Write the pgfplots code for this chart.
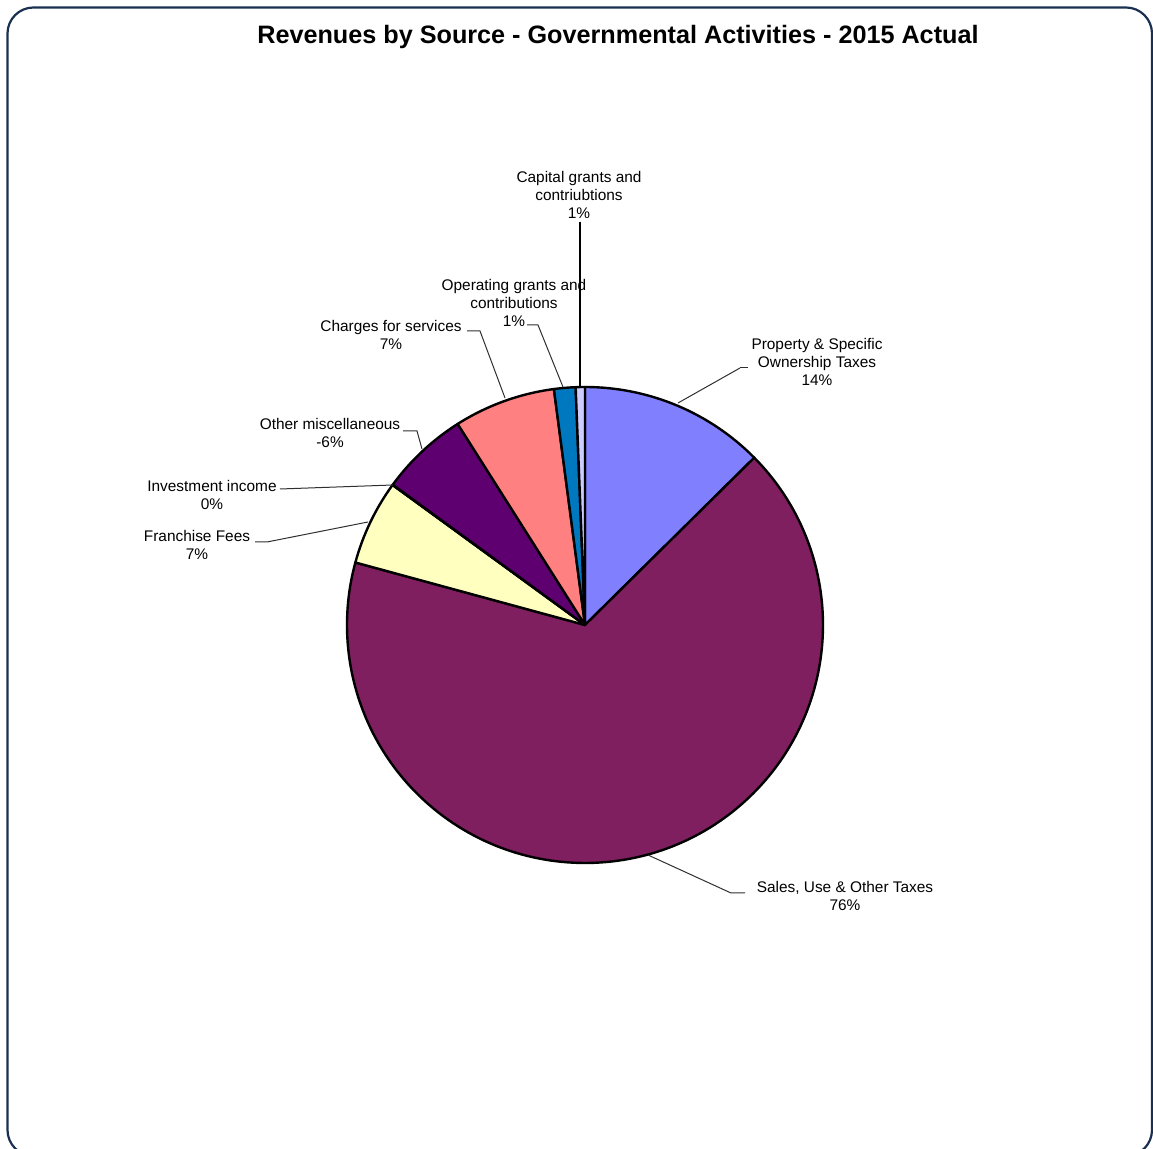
\documentclass[border=0pt]{standalone}
\usepackage{fontspec}
\setmainfont{Liberation Sans}
\usepackage{pgfplots}
\usepackage{pgfplotstable}
\pgfplotsset{compat=1.18}

\definecolor{slice0}{HTML}{8080FF}
\definecolor{slice1}{HTML}{7F1F5F}
\definecolor{slice2}{HTML}{FFFFC0}
\definecolor{slice3}{HTML}{CCFFFF}
\definecolor{slice4}{HTML}{5F0070}
\definecolor{slice5}{HTML}{FF8080}
\definecolor{slice6}{HTML}{0078C0}
\definecolor{slice7}{HTML}{CCCCFF}
\definecolor{framecol}{HTML}{1A3050}
\definecolor{leadcol}{HTML}{303030}

% Revenues by source (signed shares, %); pie uses absolute values
\pgfplotstableread{
source value
Property 14.31
Sales 75.71
Franchise 6.57
Investment 0.03
Other -6.79
Charges 7.84
Operating 1.66
Capital 0.71
}\revtable

\pgfmathsetmacro{\pietotal}{0}
\pgfplotsforeachungrouped \i in {0,...,7}{%
  \pgfplotstablegetelem{\i}{value}\of\revtable
  \pgfmathsetmacro{\pietotal}{\pietotal+abs(\pgfplotsretval)}%
}
\pgfmathsetmacro{\piecum}{0}
\pgfplotsforeachungrouped \i in {0,...,7}{%
  \pgfplotstablegetelem{\i}{value}\of\revtable
  \pgfmathsetmacro{\pieS}{90-360*(\piecum/\pietotal)}%
  \pgfmathsetmacro{\piecum}{\piecum+abs(\pgfplotsretval)}%
  \pgfmathsetmacro{\pieE}{90-360*(\piecum/\pietotal)}%
  \expandafter\xdef\csname pieA\i\endcsname{\pieS}%
  \expandafter\xdef\csname pieB\i\endcsname{\pieE}%
}

\begin{document}
\begin{tikzpicture}
\begin{axis}[name=ax,
  x=0.5pt, y=0.5pt,
  xmin=0, xmax=1153, ymin=0, ymax=1149,
  y dir=reverse, hide axis, clip=false,
  anchor=south west, at={(0,0)}]

% frame
\draw[framecol, line width=1.1pt, rounded corners=13pt]
  (axis cs:7.5,7.5) rectangle (axis cs:1152,1156);

% title
\node[font=\fontsize{12.6}{15}\selectfont\bfseries] at (axis cs:618,37)
  {Revenues by Source - Governmental Activities - 2015 Actual};

% pie slices
\pgfplotsinvokeforeach{0,...,7}{%
  \draw[fill=slice#1, line width=1.2pt, line join=round]
    (axis cs:585,625) -- ++(\csname pieA#1\endcsname:119pt)
    arc[start angle=\csname pieA#1\endcsname, end angle=\csname pieB#1\endcsname, radius=119pt] -- cycle;
}

% leader lines
\draw[leadcol, line width=0.5pt] (axis cs:740,368) -- (axis cs:748,368);
\draw[leadcol, line width=0.5pt] (axis cs:740,368) -- (axis cs:678,403);
\draw[leadcol, line width=0.5pt] (axis cs:648,855) -- (axis cs:731,893) -- (axis cs:745,893);
\draw[leadcol, line width=0.5pt] (axis cs:255,542) -- (axis cs:267,542) -- (axis cs:368,522);
\draw[leadcol, line width=0.5pt] (axis cs:280,489) -- (axis cs:393,485);
\draw[leadcol, line width=0.5pt] (axis cs:403,431) -- (axis cs:417,431) -- (axis cs:422,449);
\draw[leadcol, line width=0.5pt] (axis cs:467,331) -- (axis cs:480,331) -- (axis cs:505,398);
\draw[leadcol, line width=0.5pt] (axis cs:527,325) -- (axis cs:538,325) -- (axis cs:563,387);
\draw[black, line width=0.6pt] (axis cs:580,222) -- (axis cs:580,388);

% labels
\tikzset{lab/.style={align=center, font=\fontsize{7.7}{9}\selectfont, inner sep=0pt}}
\node[lab] at (axis cs:579,195) {Capital grants and\\contriubtions\\1\%};
\node[lab] at (axis cs:514,303) {Operating grants and\\contributions\\1\%};
\node[lab] at (axis cs:391,335) {Charges for services\\7\%};
\node[lab] at (axis cs:330,433) {Other miscellaneous\\-6\%};
\node[lab] at (axis cs:212,495) {Investment income\\0\%};
\node[lab] at (axis cs:197,545) {Franchise Fees\\7\%};
\node[lab] at (axis cs:817,362) {Property \& Specific\\Ownership Taxes\\14\%};
\node[lab] at (axis cs:845,896) {Sales, Use \& Other Taxes\\76\%};
\end{axis}
\pgfresetboundingbox
\useasboundingbox (ax.south west) rectangle (ax.north east);
\end{tikzpicture}
\end{document}
